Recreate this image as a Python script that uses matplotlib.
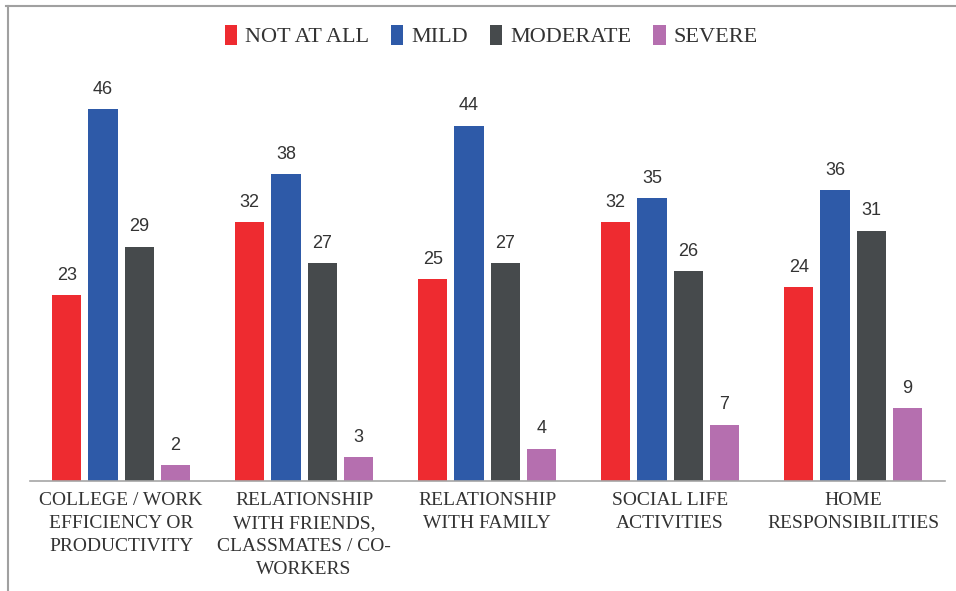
import matplotlib
matplotlib.use("Agg")
import matplotlib.pyplot as plt
import numpy as np

categories = [
    "COLLEGE / WORK\nEFFICIENCY OR\nPRODUCTIVITY",
    "RELATIONSHIP\nWITH FRIENDS,\nCLASSMATES / CO-\nWORKERS",
    "RELATIONSHIP\nWITH FAMILY",
    "SOCIAL LIFE\nACTIVITIES",
    "HOME\nRESPONSIBILITIES",
]
series_names = ["NOT AT ALL", "MILD", "MODERATE", "SEVERE"]
not_at_all = [23, 32, 25, 32, 24]
mild = [46, 38, 44, 35, 36]
moderate = [29, 27, 27, 26, 31]
severe = [2, 3, 4, 7, 9]
colors = ["#EE2B30", "#2E5AA8", "#464A4C", "#B56FAF"]

values = [not_at_all, mild, moderate, severe]

fig = plt.figure(figsize=(9.56, 5.91), dpi=100)
ax = fig.add_axes([0.031, 0.186, 0.957, 0.711])

x = np.arange(len(categories))
width = 0.16
step = 0.198
offsets = (np.arange(4) - 1.5) * step

label_font = {"family": ["Liberation Sans", "DejaVu Sans"], "size": 13, "color": "#333333"}
for i, (name, vals, c) in enumerate(zip(series_names, values, colors)):
    bars = ax.bar(x + offsets[i], vals, width=width, color=c, label=name)
    for b, v in zip(bars, vals):
        ax.text(b.get_x() + b.get_width() / 2, v + 1.4, str(v),
                ha="center", va="bottom", fontdict=label_font)

ax.set_xlim(-0.5, len(categories) - 0.5)
ax.set_ylim(0, 52)
ax.set_yticks([])
ax.set_xticks(x)
ax.set_xticklabels(categories, family=["Liberation Serif", "DejaVu Serif"],
                   fontsize=14, color="#333333", linespacing=1.45)
ax.tick_params(axis="x", length=0, pad=8)
for s in ["top", "right", "left"]:
    ax.spines[s].set_visible(False)
ax.spines["bottom"].set_color("#A6A6A6")
ax.spines["bottom"].set_linewidth(1.2)

leg = fig.legend(loc="center", bbox_to_anchor=(0.514, 0.939), ncol=4,
                 frameon=False, handlelength=0.55, handleheight=1.0,
                 handletextpad=0.35, columnspacing=1.0,
                 prop={"family": ["Liberation Serif", "DejaVu Serif"], "size": 16})
for t in leg.get_texts():
    t.set_color("#333333")

# Outer frame lines (top and left)
fig.add_artist(plt.Line2D([0.006, 1.0], [0.990, 0.990], color="#A0A0A0", lw=1.5,
                          transform=fig.transFigure))
fig.add_artist(plt.Line2D([0.008, 0.008], [0.0, 0.990], color="#A0A0A0", lw=1.5,
                          transform=fig.transFigure))

fig.savefig("out.png", dpi=100, facecolor="white")
